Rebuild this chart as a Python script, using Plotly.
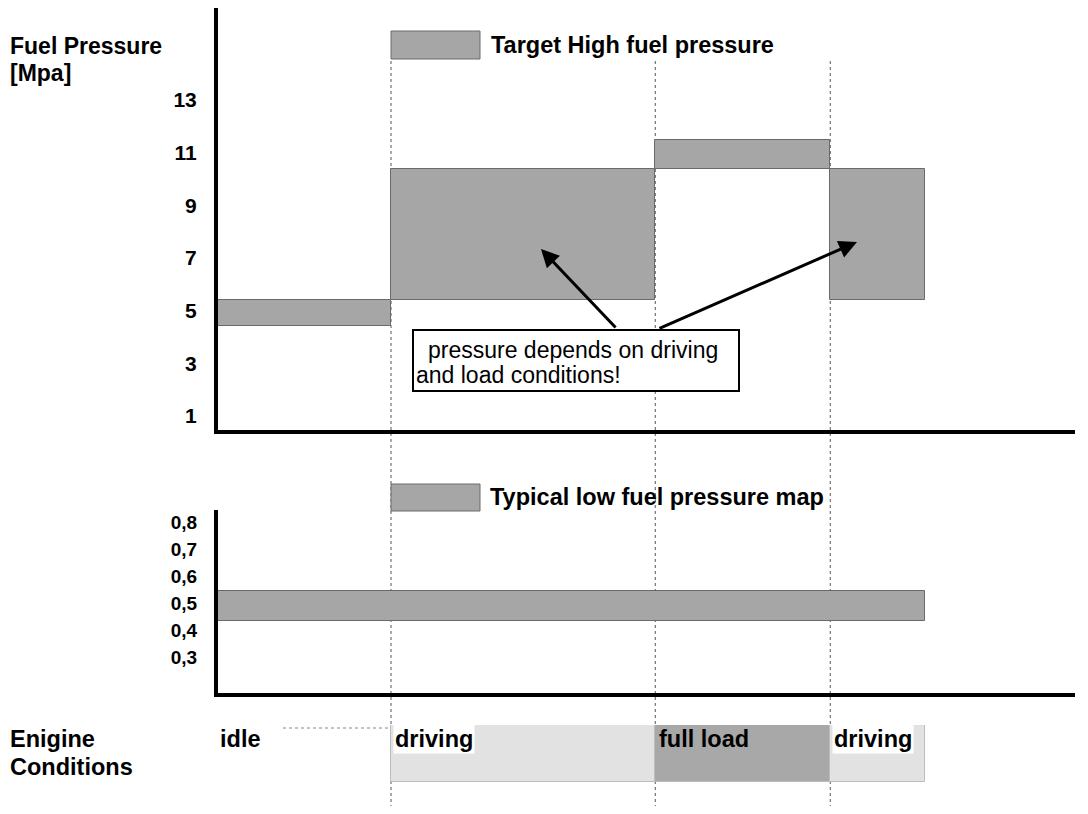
import plotly.graph_objects as go

# ---------------- data ----------------
# high fuel pressure target (MPa) per engine phase
hp_start = [0, 10, 25.1, 35.1]
hp_end = [10, 25.1, 35.1, 40.5]
hp_low = [4.4, 5.4, 10.4, 5.4]
hp_high = [5.4, 10.4, 11.5, 10.4]

# typical low fuel pressure map (MPa)
lp_start = [0]
lp_end = [40.5]
lp_low = [0.435]
lp_high = [0.545]

# engine conditions
cond_names = ["idle", "driving", "full load", "driving"]
cond_start = [0, 10, 25.1, 35.1]
cond_end = [10, 25.1, 35.1, 40.5]
cond_shade = [None, "#e2e2e2", "#a8a8a8", "#e2e2e2"]

hp_ticks = [1, 3, 5, 7, 9, 11, 13]
hp_ticktext = ["1", "3", "5", "7", "9", "11", "13"]
lp_ticks = [0.3, 0.4, 0.5, 0.6, 0.7, 0.8]
lp_ticktext = ["0,3", "0,4", "0,5", "0,6", "0,7", "0,8"]

boundaries = [10, 25.1, 35.1]

# ---------------- figure ----------------
OFF = 8                      # page body margin
W, H = 1088 - 2 * OFF, 814 - 2 * OFF
FONT = "Liberation Sans, Arial, Helvetica, sans-serif"
BAR = "#a6a6a6"
EDGE = "#6a6a6a"

def px(x):
    return (x - OFF) / W

def py(y):
    return 1 - (y - OFF) / H

fig = go.Figure()

fig.add_trace(go.Bar(
    x=[(s + e) / 2 for s, e in zip(hp_start, hp_end)],
    width=[e - s for s, e in zip(hp_start, hp_end)],
    base=hp_low,
    y=[h - l for h, l in zip(hp_high, hp_low)],
    marker=dict(color=BAR, line=dict(color=EDGE, width=1)),
    xaxis="x", yaxis="y", showlegend=False, hoverinfo="skip",
))

fig.add_trace(go.Bar(
    x=[(s + e) / 2 for s, e in zip(lp_start, lp_end)],
    width=[e - s for s, e in zip(lp_start, lp_end)],
    base=lp_low,
    y=[h - l for h, l in zip(lp_high, lp_low)],
    marker=dict(color=BAR, line=dict(color=EDGE, width=1)),
    xaxis="x2", yaxis="y2", showlegend=False, hoverinfo="skip",
))

shaded = [i for i, c in enumerate(cond_shade) if c]
fig.add_trace(go.Bar(
    x=[(cond_start[i] + cond_end[i]) / 2 for i in shaded],
    width=[cond_end[i] - cond_start[i] for i in shaded],
    base=[0] * len(shaded),
    y=[1] * len(shaded),
    marker=dict(color=[cond_shade[i] for i in shaded], line=dict(color="#bdbdbd", width=1)),
    xaxis="x3", yaxis="y3", showlegend=False, hoverinfo="skip",
))

# axis lines are drawn 2px outside the domain, so the domain starts 2px inside
X0 = 218
PXU = 17.5  # pixels per time unit (reference)
xdom = [px(X0), px(1075)]
xr = [(X0 - 216) / PXU, (1075 - 216) / PXU]
xdom3 = [px(216), px(1075)]
xr3 = [0, (1075 - 216) / PXU]

axis_common = dict(showgrid=False, zeroline=False, ticks="", fixedrange=True)

T_BOT, T_TOP = 430, 8
L_BOT, L_TOP = 693, 510

fig.update_layout(
    width=W, height=H,
    margin=dict(l=0, r=0, t=0, b=0),
    paper_bgcolor="white", plot_bgcolor="rgba(0,0,0,0)",
    bargap=0, barmode="overlay",
    font=dict(family=FONT, color="black"),
    xaxis=dict(domain=xdom, range=xr, anchor="y", showline=True, linewidth=4,
               linecolor="black", showticklabels=False, **axis_common),
    yaxis=dict(domain=[py(T_BOT), py(T_TOP)],
               range=[1 - (T_BOT - 416) / 26.33, 1 + (416 - T_TOP) / 26.33],
               anchor="x", showline=True, linewidth=4, linecolor="black",
               tickvals=hp_ticks, ticktext=hp_ticktext, ticklabelstandoff=13,
               tickfont=dict(size=21, family=FONT, weight="bold"), **axis_common),
    xaxis2=dict(domain=xdom, range=xr, anchor="y2", showline=True, linewidth=4,
                linecolor="black", showticklabels=False, **axis_common),
    yaxis2=dict(domain=[py(L_BOT), py(L_TOP)],
                range=[0.3 - (L_BOT - 657) / 270, 0.8 + (522 - L_TOP) / 270],
                anchor="x2", showline=True, linewidth=4, linecolor="black",
                tickvals=lp_ticks, ticktext=lp_ticktext, ticklabelstandoff=13,
                tickfont=dict(size=19, family=FONT, weight="bold"), **axis_common),
    xaxis3=dict(domain=xdom3, range=xr3, anchor="y3", visible=False, **axis_common),
    yaxis3=dict(domain=[py(782), py(725)], range=[0, 1], anchor="x3", visible=False, **axis_common),
)

shapes = []
# vertical dotted phase boundaries
for b in boundaries:
    shapes.append(dict(type="line", xref="x", yref="paper", x0=b, x1=b, y0=py(808), y1=py(60),
                       line=dict(color="#555555", width=1, dash="dot"), layer="below"))
# idle faint dotted line
shapes.append(dict(type="line", xref="paper", yref="paper", x0=px(283), x1=px(388), y0=py(728), y1=py(728),
                   line=dict(color="#888888", width=1, dash="dot")))
# legend swatches
for y0, y1 in [(31, 59), (484, 511)]:
    shapes.append(dict(type="rect", xref="paper", yref="paper", x0=px(391), x1=px(480),
                       y0=py(y1), y1=py(y0), fillcolor=BAR, line=dict(color=EDGE, width=1)))
# note box
shapes.append(dict(type="rect", xref="paper", yref="paper", x0=px(413), x1=px(739),
                   y0=py(391), y1=py(330), fillcolor="white", line=dict(color="black", width=2)))
fig.update_layout(shapes=shapes)

ann = []
def label(text, x, y, size, bold=True):
    ann.append(dict(text=("<b>%s</b>" % text) if bold else text, xref="paper", yref="paper",
                    x=px(x), y=py(y), xanchor="left", yanchor="middle", showarrow=False,
                    font=dict(size=size)))

label("Fuel Pressure", 8, 46, 23)
label("[Mpa]", 8, 73, 23)
label("Target High fuel pressure", 489, 45, 23.5)
label("Typical low fuel pressure map", 488, 497, 23.5)
label("pressure depends on driving", 426, 350, 23, bold=False)
label("and load conditions!", 414, 375, 23, bold=False)
label("Enigine", 8, 739, 23.5)
label("Conditions", 8, 767, 23.5)

# arrows
ann.append(dict(text="", xref="paper", yref="paper", x=px(541), y=py(249), ax=617 - 541, ay=329 - 249,
                showarrow=True, arrowhead=2, arrowsize=1.2, arrowwidth=3, arrowcolor="black"))
ann.append(dict(text="", xref="paper", yref="paper", x=px(857), y=py(242), ax=658 - 857, ay=329 - 242,
                showarrow=True, arrowhead=2, arrowsize=1.2, arrowwidth=3, arrowcolor="black"))

# engine condition labels
for name, s, shade in zip(cond_names, cond_start, cond_shade):
    ann.append(dict(text="<b>" + name + "</b>", xref="x3", yref="paper", x=s, xshift=2, y=py(739),
                    xanchor="left", yanchor="middle", showarrow=False, font=dict(size=23.5),
                    bgcolor="white" if shade == "#e2e2e2" else "rgba(0,0,0,0)", borderpad=1))
fig.update_layout(annotations=ann)

fig.write_html("out.html")
